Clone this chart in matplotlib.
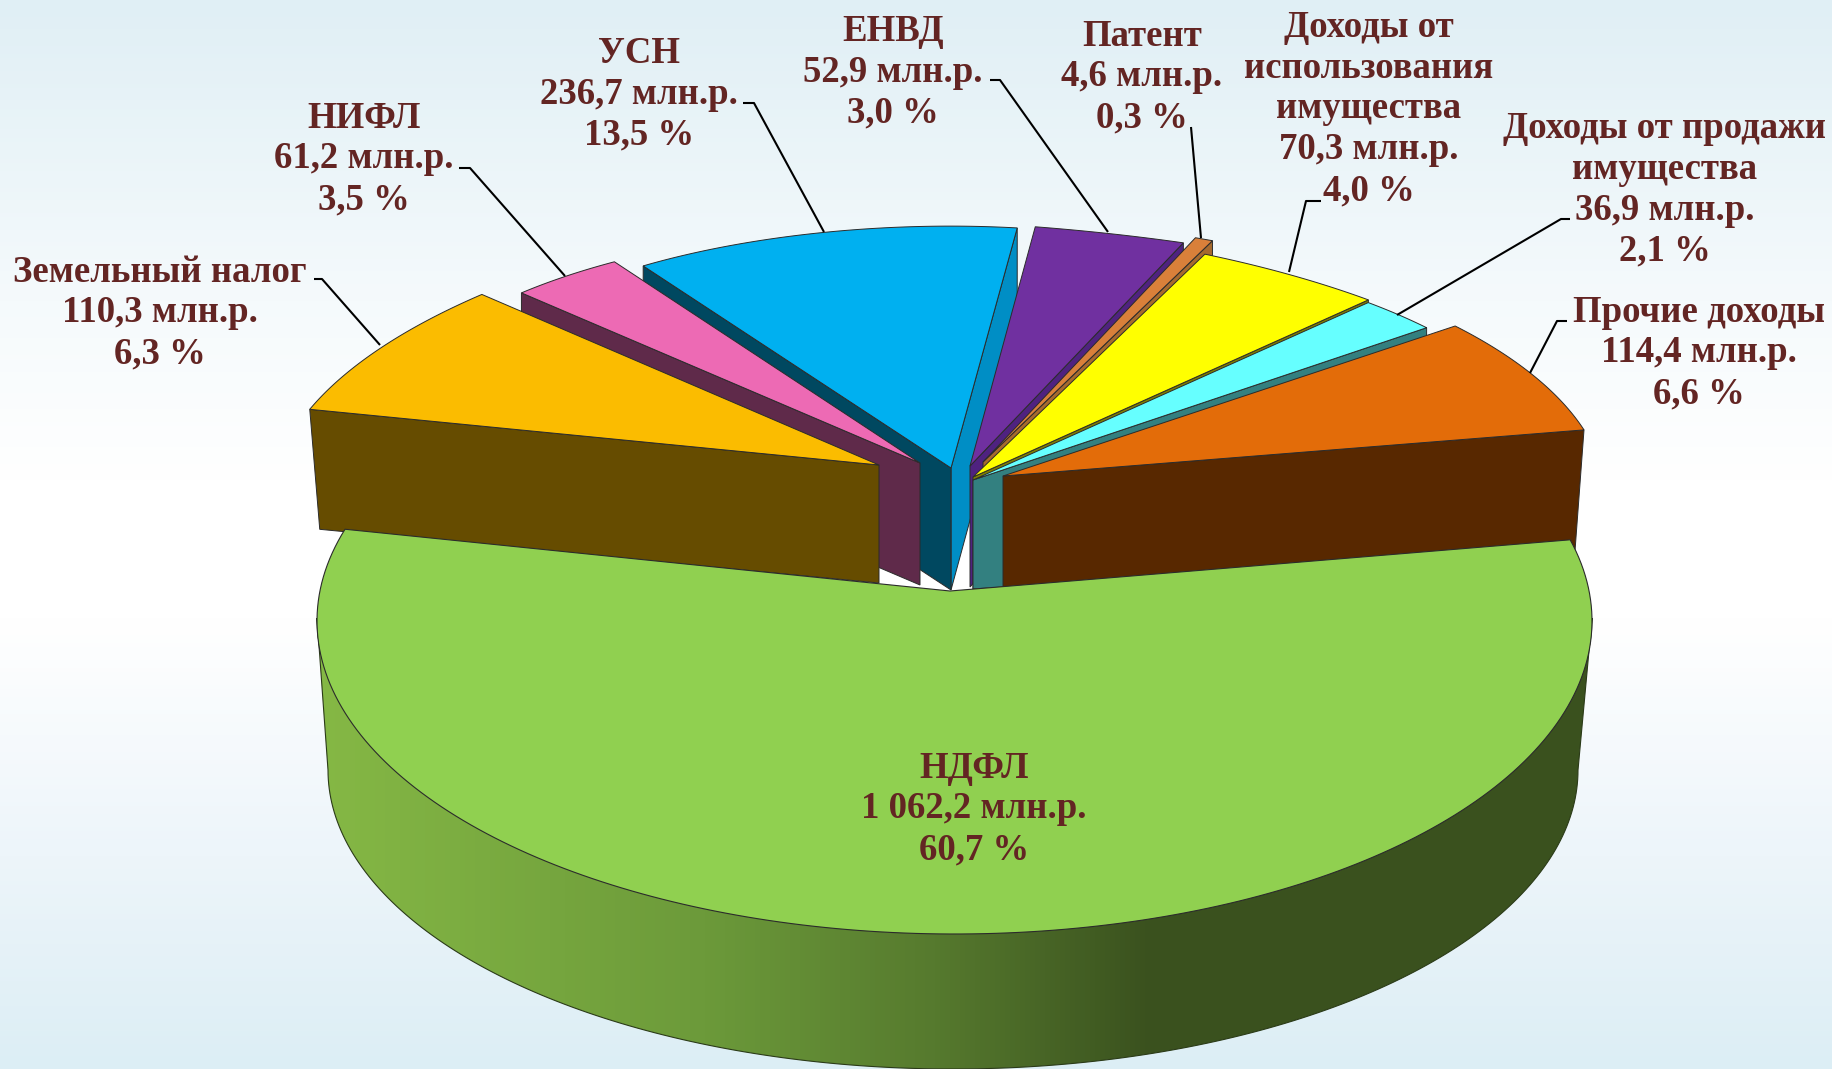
import numpy as np
import matplotlib
matplotlib.use('Agg')
import matplotlib.pyplot as plt
from matplotlib.colors import LinearSegmentedColormap
from matplotlib.patches import Polygon

plt.rcParams['font.family'] = ['Liberation Serif', 'DejaVu Serif']

# ======================
# data, counter-clockwise from the right end of the big slice
# ======================
names = ['Прочие доходы', 'Доходы от продажи\nимущества', 'Доходы от\nиспользования\nимущества',
         'Патент', 'ЕНВД', 'УСН', 'НИФЛ', 'Земельный налог', 'НДФЛ']
values = [114.4, 36.9, 70.3, 4.6, 52.9, 236.7, 61.2, 110.3, 1062.2]
percents = [6.6, 2.1, 4.0, 0.3, 3.0, 13.5, 3.5, 6.3, 60.7]

# ======================
# fake 3D geometry, one entry per slice (figure pixels)
# ======================
top_colors = ['#E36C09', '#66FFFF', '#FFFF00', '#D9803A', '#7030A0', '#00B0F0', '#ED6AB4', '#FBBC00', '#90D050']
apex_x = [1003, 973, 973, 983, 970, 951, 920, 879, 950]
apex_y = [476, 480, 477, 462, 466, 468, 463, 465, 591]
rim_cx = [935, 949, 854, 704, 829, 903, 943, 1153, 954.5]
rim_cy = [502, 486, 520, 573, 444, 377, 422, 504, 621]
rim_a = [672, 617, 757, 1097, 791, 438, 554, 882, 637.5]
rim_b = [278, 250, 300, 375, 225, 150, 199, 323, 313]
rim_t = [0, 0, 0, 0, 0, -16.3, 0, 0, 0]

# slice index, edge, colour, depth at apex, depth at rim, x shift at rim
walls = [
    (5, 'lo', '#008EC5', 122, 119, 0),
    (5, 'hi', '#004860', 122, 122, 0),
    (6, 'hi', '#5F2A4A', 122, 122, 0),
    (7, 'hi', '#664C00', 118, 120, 10),
    (4, 'lo', '#4F2280', 121, 117, 0),
    (3, 'lo', '#A66A2E', 118, 118, 0),
    (2, 'lo', '#808000', 113, 120, 0),
    (1, 'lo', '#338080', 109, 231, 0),
    (0, 'lo', '#582800', 111, 121, -9),
]
draw_order = [5, 6, 7, 4, 3, 2, 1, 0]

start_angle = 18.3
warp = 0.06   # far side of the pie looks wider than the near side
edge_color = '#2B2B2B'


def warped(theta_deg):
    t = np.radians(theta_deg)
    return t - warp * np.cos(t)


def rim_point(i, theta_deg):
    t = warped(theta_deg)
    x = rim_cx[i] + rim_a[i] * np.cos(t)
    y = rim_cy[i] - rim_b[i] * np.sin(t) + rim_t[i] * np.cos(t)
    return x, y


angles = start_angle + np.concatenate([[0], np.cumsum(values)]) / np.sum(values) * 360.0

fig = plt.figure(figsize=(18.33, 10.69), dpi=100)
ax = fig.add_axes([0, 0, 1, 1])

# background
bg_cmap = LinearSegmentedColormap.from_list('bg', [
    (0.0, '#E0EFF5'), (0.28, '#F5FAFC'), (0.45, '#FFFFFF'), (0.58, '#FFFFFF'),
    (0.8, '#EDF5FA'), (1.0, '#DCEEF5')])
ax.imshow(np.linspace(0, 1, 256).reshape(-1, 1), cmap=bg_cmap, aspect='auto',
          extent=[0, 1833, 1069, 0], zorder=0)

z = 1
for i in draw_order:
    for idx, edge, color, d_apex, d_rim, shift in walls:
        if idx != i:
            continue
        a = angles[i] if edge == 'lo' else angles[i + 1]
        rx, ry = rim_point(i, a)
        ax.add_patch(Polygon([(apex_x[i], apex_y[i]), (rx, ry), (rx + shift, ry + d_rim),
                              (apex_x[i], apex_y[i] + d_apex)],
                             closed=True, fc=color, ec=edge_color, lw=0.7, zorder=z))
        z += 1
    arc = np.linspace(angles[i], angles[i + 1], 60)
    rx, ry = rim_point(i, arc)
    pts = np.column_stack([np.r_[apex_x[i], rx], np.r_[apex_y[i], ry]])
    ax.add_patch(Polygon(pts, closed=True, fc=top_colors[i], ec=edge_color, lw=0.7, zorder=z))
    z += 1

# big slice: outer wall with gradient, then top
g = 8
front = np.radians(np.linspace(180, 360, 200))
top_x = rim_cx[g] + rim_a[g] * np.cos(front)
top_y = rim_cy[g] - rim_b[g] * np.sin(front) - 3
bot_x = 953 + 625 * np.cos(front)
bot_y = 770 - 299 * np.sin(front)
wall_pts = np.column_stack([np.r_[top_x, bot_x[::-1]], np.r_[top_y, bot_y[::-1]]])
wall_patch = Polygon(wall_pts, closed=True, fc='none', ec='#2B3B18', lw=0.8, zorder=z + 1)
ax.add_patch(wall_patch)
wall_cmap = LinearSegmentedColormap.from_list('wall', [
    (0.0, '#85B845'), (0.3, '#6C9A3A'), (0.48, '#567A2E'), (0.65, '#3A511E'), (1.0, '#3A511E')])
img = ax.imshow(np.linspace(0, 1, 256).reshape(1, -1), cmap=wall_cmap, aspect='auto',
                extent=[320, 1600, 1069, 600], zorder=z)
img.set_clip_path(wall_patch)

arc = np.linspace(angles[g], angles[g + 1], 200)
rx, ry = rim_point(g, arc)
pts = np.column_stack([np.r_[apex_x[g], rx], np.r_[apex_y[g], ry]])
ax.add_patch(Polygon(pts, closed=True, fc=top_colors[g], ec=edge_color, lw=0.8, zorder=z + 2))
z += 3

# leader lines
leaders = [
    [(1567, 321), (1557, 321), (1530, 373)],
    [(1570, 219), (1561, 219), (1397, 315)],
    [(1321, 201), (1306, 201), (1289, 272)],
    [(1191, 127), (1201, 238)],
    [(990, 80), (1000, 80), (1108, 232)],
    [(743, 103), (754, 103), (824, 232)],
    [(459, 168), (470, 168), (565, 276)],
    [(314, 279), (322, 279), (380, 345)],
]
for line in leaders:
    xs, ys = zip(*line)
    ax.plot(xs, ys, color='black', lw=1.5, solid_capstyle='butt', zorder=z)

# labels
label_x = [1699, 1665, 1369, 1142, 893, 639, 364, 160, 974]
label_y = [353, 190, 109, 77, 72, 94, 159, 313, 809]
for i, name in enumerate(names):
    whole, frac = f'{values[i]:.1f}'.split('.')
    if len(whole) > 3:
        whole = whole[:-3] + ' ' + whole[-3:]
    pct = f'{percents[i]:.1f}'.replace('.', ',')
    text = f'{name}\n{whole},{frac} млн.р.\n{pct} %'
    ax.text(label_x[i], label_y[i], text, ha='center', va='center', fontsize=26.5,
            fontweight='bold', color='#632523', linespacing=1.22, zorder=z + 1)

ax.set_xlim(0, 1833)
ax.set_ylim(1069, 0)
ax.axis('off')
fig.savefig('out.png', dpi=100)
plt.close(fig)
